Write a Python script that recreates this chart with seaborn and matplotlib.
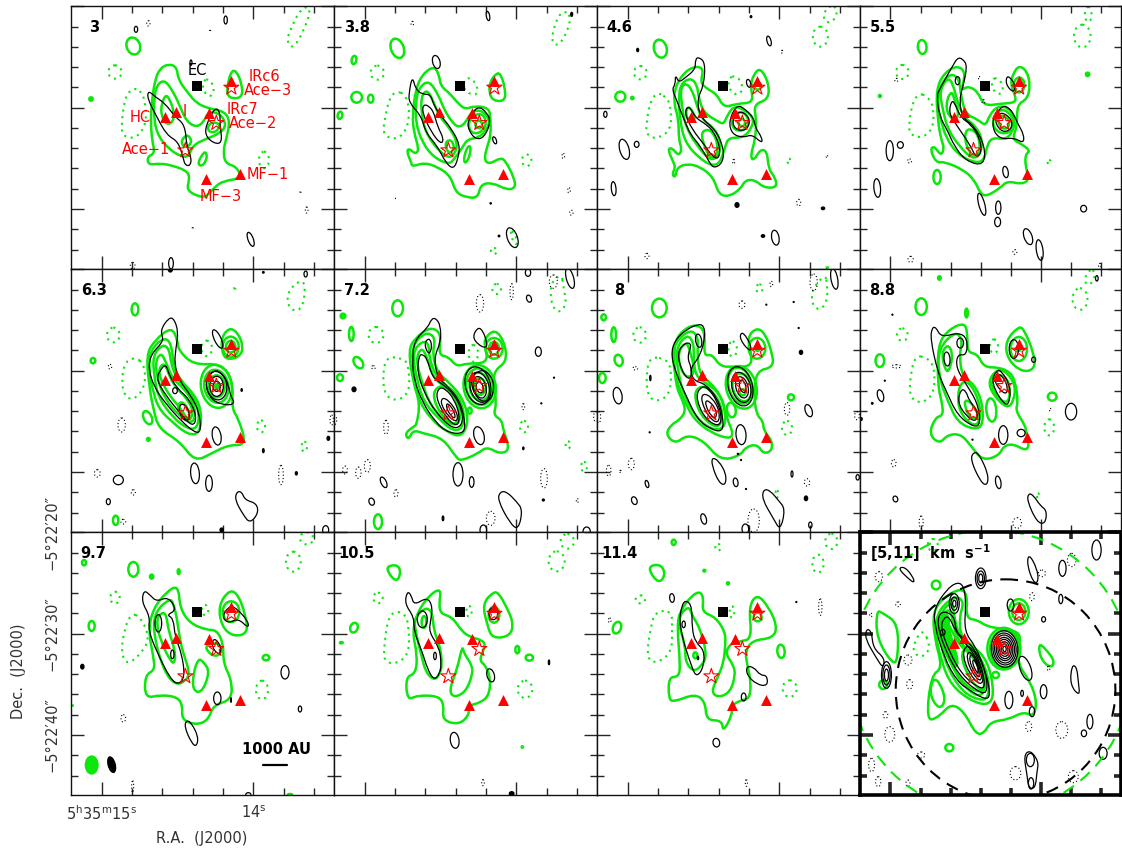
import numpy as np
import pandas as pd
import matplotlib
matplotlib.use('Agg')
import matplotlib.pyplot as plt
from matplotlib.patches import Ellipse, Circle, PathPatch
from matplotlib.path import Path
import seaborn as sns

# all map positions are in map units, 0-789 across a panel, y pointing down
LABELS = ["3", "3.8", "4.6", "5.5", "6.3", "7.2", "8", "8.8", "9.7", "10.5", "11.4", r"[5,11]  km  s$^{\mathbf{-1}}$"]
PREFIXES = ["V3", "V38", "V46", "V55", "V63", "V72", "V80", "V88", "V97", "V105", "V114", "VALL"]

TRI_X = [283, 315, 413, 481, 405, 506]
TRI_Y = [332, 318, 322, 224, 520, 505]
STAR_X = [343, 436, 481]
STAR_Y = [433, 351, 245]
EC_X = [378]
EC_Y = [240]

SOURCE_NAMES = ["HC", "I", "IRc6", "Ace\u22123", "IRc7", "Ace\u22122", "Ace\u22121", "MF\u22121", "MF\u22123"]
SOURCE_X = [207, 340, 579, 592, 515, 545, 225, 589, 448]
SOURCE_Y = [334, 317, 212, 253, 309, 352, 432, 506, 572]

RA_MAJOR = [92, 547]
RA_LABELS = [r"5$^{\rm h}$35$^{\rm m}$15$^{\rm s}$", r"14$^{\rm s}$"]
DEC_MAJOR = [1, 305, 609]
DEC_LABELS = ["\u22125\u00b022\u203220\u2033", "\u22125\u00b022\u203230\u2033", "\u22125\u00b022\u203240\u2033"]

# channel 3
V3_G = [
    [(267,187),(252,222),(243,282),(239,342),(243,402),(252,442),(229,452),(232,477),(267,472),(307,479),(352,497),(355,522),(347,552),(382,572),(407,572),(432,542),(457,525),(512,517),(497,482),(462,472),(457,432),(465,402),(477,347),(462,317),(412,307),(377,292),(352,262),(322,222),(317,182),(292,174)],
    [(282,220),(257,237),(249,282),(249,342),(262,392),(297,432),(332,452),(352,452),(367,417),(402,400),(447,382),(467,357),(447,322),(412,317),(399,347),(377,364),(347,347),(327,302),(312,267)],
    [(285,265),(272,292),(270,327),(287,357),(307,347),(309,317),(297,282)],
    [(345,387),(329,407),(342,427),(362,412),(357,392)],
    [(422,347),(407,367),(422,382),(442,372),(447,354)],
    [(399,437),(379,472),(392,482),(407,462),(407,442)],
    [(484,192),(472,222),(467,267),(487,279),(515,272),(512,232),(497,197)],
]
V3_K = [
    [(232,254),(229,277),(257,332),(287,387),(322,407),(337,457),(342,477),(357,480),(362,457),(347,422),(342,357),(312,332),(282,292),(252,272)],
    [(432,304),(407,352),(402,387),(427,412),(454,412),(447,357),(447,317)],
]
V3_GD = [
    [(185,247),(162,272),(150,362),(157,392),(197,397),(227,352),(222,282),(207,252)],
    [(692,2),(652,82),(649,112),(667,127),(697,77),(722,7)],
]
V3_EG = [(187,120,40,52,-20),(60,279,10,10,0)]
V3_EK = [(195,70,10,18,0),(464,42,10,24,0),(539,700,16,44,-20),(300,772,14,34,0),(360,170,6,16,0)]
V3_EGD = [(132,198,40,40,0),(579,462,30,50,0),(412,245,30,50,-15)]
V3_EKD = [(232,52,10,16,0),(185,779,14,20,0),(707,612,8,18,0),(365,667,4,4,0),(417,75,4,4,0),(688,560,4,4,0)]

# channel 3.8
V38_G = [
    [(300,180),(265,205),(245,250),(235,330),(240,380),(255,430),(245,445),(225,427),(218,437),(232,470),(235,482),(270,470),(310,482),(350,510),(365,560),(400,575),(432,575),(440,535),(475,530),(520,552),(545,545),(540,515),(515,465),(500,455),(465,475),(450,460),(460,420),(470,390),(470,340),(465,305),(420,300),(395,310),(375,295),(345,260),(320,240),(315,205)],
    [(285,222),(255,245),(245,290),(245,350),(265,410),(300,455),(345,475),(360,460),(385,425),(400,400),(435,395),(460,370),(468,340),(440,310),(410,320),(395,350),(375,365),(355,350),(330,310),(315,270)],
    [(280,250),(262,270),(262,320),(275,380),(310,430),(345,458),(365,440),(370,410),(350,370),(315,330),(300,290)],
    [(345,400),(332,415),(345,445),(360,430),(358,410)],
    [(435,320),(405,340),(405,375),(430,385),(455,365),(455,335)],
    [(435,340),(420,355),(435,370),(448,355)],
    [(490,200),(468,225),(465,260),(478,285),(515,285),(512,240),(500,205)],
]
V38_K = [
    [(235,210),(225,260),(225,290),(262,330),(275,380),(310,420),(335,470),(358,490),(372,460),(378,415),(350,365),(325,335),(300,300),(290,265),(265,265),(245,250)],
    [(268,295),(265,320),(290,375),(320,415),(330,400),(310,360),(300,320),(285,300)],
    [(430,298),(400,345),(405,375),(425,400),(450,395),(470,350),(460,320)],
]
V38_GD = [
    [(185,255),(165,280),(150,350),(148,385),(180,402),(215,380),(228,320),(215,265)],
    [(400,215),(385,235),(400,262),(430,268),(430,240),(415,220)],
    [(680,10),(650,95),(665,122),(690,100),(715,30)],
]
V38_EG = [(190,127,38,60,-20),(60,162,14,25,10),(68,274,32,32,0),(110,278,16,24,0),(18,328,14,22,10),(400,445,14,50,15)]
V38_EK = [(307,168,22,40,-15),(482,403,10,22,-20),(462,30,10,28,-10),(535,695,30,62,-20),(470,592,4,4,0),(495,690,5,5,0),(713,25,6,12,0)]
V38_EGD = [(130,200,40,42,0),(578,463,28,35,0),(480,735,18,18,0),(540,695,12,40,-20)]
V38_EKD = [(235,52,8,12,0),(688,450,8,15,0),(705,553,8,15,0),(712,620,10,15,0),(183,578,3,3,0)]

# channel 4.6
V46_G = [
    [(300,180),(265,195),(235,240),(230,290),(245,340),(245,400),(255,430),(245,450),(225,425),(212,430),(230,470),(235,485),(225,505),(235,515),(240,485),(270,473),(310,482),(350,515),(365,565),(395,572),(430,550),(445,522),(475,522),(500,545),(540,545),(535,515),(515,490),(510,435),(490,430),(470,465),(460,450),(475,400),(478,340),(470,295),(515,280),(515,230),(490,185),(470,205),(460,240),(470,290),(420,293),(380,305),(360,265),(330,248),(310,230),(320,190)],
    [(280,215),(250,235),(245,285),(250,350),(265,410),(305,455),(345,480),(370,470),(385,420),(395,395),(440,395),(465,365),(470,335),(440,310),(410,300),(390,330),(380,355),(360,345),(320,320),(305,275),(300,235)],
    [(265,230),(250,250),(255,300),(265,360),(300,420),(340,465),(365,450),(372,410),(355,370),(315,340),(300,300),(285,250)],
    [(325,370),(312,385),(325,430),(345,460),(360,445),(362,410),(345,375)],
    [(275,300),(265,320),(275,345),(295,340),(290,320)],
    [(430,315),(405,330),(405,365),(430,378),(455,360),(452,330)],
    [(435,335),(420,350),(435,365),(448,350)],
]
V46_K = [
    [(235,205),(235,235),(225,250),(240,285),(245,300),(265,350),(280,385),(310,420),(335,465),(350,488),(378,470),(380,425),(355,370),(310,335),(300,280),(320,240),(325,170),(305,153),(295,160),(295,190),(265,215),(245,230)],
    [(275,297),(262,320),(285,370),(325,420),(345,450),(365,460),(370,425),(350,375),(320,350),(295,335)],
    [(420,295),(395,345),(405,385),(440,395),(465,385),(495,412),(495,395),(475,365),(470,335),(445,310)],
    [(425,315),(405,345),(415,370),(445,375),(460,350),(450,325)],
]
V46_GD = [
    [(180,260),(160,285),(148,350),(148,385),(175,400),(222,375),(222,300),(205,270)],
]
V46_EG = [(190,128,38,55,-15),(70,272,30,30,-30),(106,276,7,7,0),(482,240,20,22,0)]
V46_EK = [(455,232,12,24,-15),(82,430,28,62,-15),(119,415,14,18,0),(50,548,14,42,-5),(516,105,12,30,-15),(535,695,22,45,-10),(420,597,12,14,0),(498,690,10,8,0),(678,607,10,8,0),(25,325,10,18,0),(122,132,6,10,0),(462,32,5,6,0)]
V46_EGD = [(130,200,38,40,0),(415,238,38,55,-20),(670,92,45,60,0),(700,25,35,50,25),(576,465,10,14,0),(690,787,20,6,0)]
V46_EKD = [(410,467,6,14,0),(605,590,12,20,0),(150,750,12,16,0),(555,137,6,8,0),(690,452,5,6,0)]

# channel 5.5
V55_G = [
    [(295,178),(255,200),(230,250),(235,340),(245,400),(255,425),(245,450),(225,420),(212,430),(230,470),(255,467),(310,490),(345,520),(365,565),(385,570),(425,545),(445,525),(490,535),(512,520),(500,480),(500,445),(515,435),(490,415),(460,400),(475,360),(475,295),(505,280),(515,240),(505,195),(480,178),(462,205),(455,235),(470,270),(470,290),(425,293),(375,300),(355,255),(325,240),(305,255),(320,200)],
    [(275,200),(240,240),(235,300),(245,345),(260,395),(295,445),(345,470),(375,465),(385,415),(400,395),(440,400),(460,380),(470,340),(450,305),(415,300),(390,330),(380,360),(355,340),(320,325),(305,270),(300,220)],
    [(265,215),(240,255),(250,310),(265,370),(300,420),(340,460),(365,445),(370,400),(350,360),(315,335),(295,290),(280,230)],
    [(278,255),(262,280),(262,320),(285,345),(300,325),(285,280)],
    [(325,365),(315,395),(330,440),(350,450),(365,430),(355,380)],
    [(425,310),(403,330),(402,365),(430,385),(460,375),(465,340),(445,315)],
    [(425,325),(415,345),(430,370),(450,365),(452,340)],
    [(480,210),(462,230),(472,262),(495,255),(498,225)],
]
V55_K = [
    [(295,155),(280,180),(240,250),(232,270),(240,330),(265,375),(285,420),(320,465),(375,480),(378,420),(345,360),(310,335),(300,285),(310,245),(325,180),(310,158)],
    [(278,280),(268,320),(290,355),(335,420),(350,455),(368,440),(362,395),(335,355),(305,335),(290,300)],
    [(430,298),(400,340),(405,380),(430,400),(465,395),(495,412),(495,385),(478,355),(465,325),(450,305)],
    [(425,315),(405,345),(430,380),(458,370),(460,340)],
    [(445,205),(440,235),(465,262),(470,235)],
]
V55_GD = [
    [(180,262),(160,285),(148,350),(150,385),(185,397),(222,370),(222,295),(200,270)],
]
V55_EG = [(188,123,26,42,-5),(233,513,22,42,0),(60,270,6,6,0),(688,205,10,10,0)]
V55_EK = [(295,224,14,24,0),(90,434,22,60,0),(122,417,18,20,0),(52,546,20,56,-5),(368,595,18,68,-15),(418,605,16,40,0),(416,648,18,28,0),(508,692,24,50,-20),(543,732,20,62,-8),(676,608,18,20,0),(440,498,16,34,-10)]
V55_EGD = [(128,198,38,42,0),(415,240,30,48,-20),(672,90,50,68,0),(690,25,20,45,0),(572,468,10,12,0)]
V55_EKD = [(150,465,12,12,0),(153,760,16,18,0),(468,738,12,14,0),(725,778,8,12,0),(373,287,8,12,0),(110,222,10,10,0),(360,215,4,8,0)]

# channel 6.3
V63_G = [
    [(322,243),(367,288),(452,283),(487,338),(482,418),(502,448),(527,528),(472,528),(422,553),(372,578),(327,518),(262,478),(247,418),(237,368),(225,258),(252,213),(302,173),(320,215)],
    [(477,175),(452,203),(452,248),(467,273),(507,263),(517,233),(502,193)],
    [(282,203),(237,243),(234,308),(244,358),(262,418),(302,458),(352,498),(387,493),(392,428),(372,378),(327,333),(307,288),(302,228)],
    [(275,225),(245,260),(250,325),(262,385),(305,445),(350,480),(380,478),(385,425),(360,370),(320,335),(300,285),(295,240)],
    [(270,250),(252,280),(262,340),(285,395),(325,440),(360,465),(375,440),(365,395),(335,355),(305,330),(285,280)],
    [(272,285),(262,310),(278,350),(300,385),(330,420),(355,460),(368,425),(345,385),(318,360),(296,325),(285,290)],
    [(330,395),(318,415),(340,450),(358,445),(350,415)],
]
V63_K = [
    [(430,300),(400,340),(420,395),(470,410),(492,402),(478,380),(472,345),(455,315)],
    [(294,145),(267,185),(280,215),(240,255),(232,300),(250,355),(285,405),(330,455),(370,490),(390,490),(385,430),(360,380),(325,335),(310,285),(315,235),(322,190),(310,150)],
    [(270,300),(255,330),(285,380),(325,430),(365,475),(378,445),(355,390),(320,360),(295,320),(285,285)],
    [(497,668),(492,693),(517,738),(537,763),(562,733),(557,703),(522,693),(512,668)],
]
V63_GD = [
    [(192,263),(157,283),(152,368),(182,398),(222,358),(222,288)],
    [(702,33),(672,43),(647,78),(654,118),(682,128),(700,98)],
]
V63_EG = [(436,352,92,130,-10),(436,352,72,100,-10),(437,352,48,66,0),(437,352,10,12,0),(479,233,48,60,0),(479,233,28,35,0),(192,121,20,36,0),(66,275,14,16,0),(230,446,24,42,-25),(232,511,8,8,0),(134,754,16,28,0)]
V63_EK = [(437,350,60,86,-10),(437,352,40,60,0),(437,352,22,30,0),(340,430,26,50,-20),(437,501,26,55,-10),(372,613,26,62,-5),(414,643,20,48,0),(142,633,30,28,0),(112,698,12,18,0),(704,15,10,18,0),(764,783,18,26,0),(452,783,10,12,0),(298,2,12,14,0),(577,10,5,5,0),(577,545,5,12,0),(772,508,8,12,0),(676,613,6,10,0),(512,363,4,8,0),(312,365,14,18,0),(440,210,20,60,-25)]
V63_EGD = [(127,198,38,44,0),(407,238,32,46,0),(489,61,8,6,0),(570,472,24,36,0),(700,533,16,30,0)]
V63_EKD = [(117,293,10,14,0),(152,468,22,42,0),(79,613,18,22,0),(187,670,12,16,0),(157,758,14,14,0),(630,618,14,58,0),(782,453,10,30,0)]

# channel 7.2
V72_G = [
    [(288,173),(243,208),(223,243),(238,343),(258,403),(248,468),(238,473),(213,493),(223,513),(238,483),(268,493),(328,508),(368,568),(383,575),(433,553),(458,533),(498,555),(528,543),(508,483),(503,453),(478,438),(488,403),(478,340),(483,303),(518,278),(513,223),(483,178),(448,213),(458,243),(458,283),(398,283),(368,293),(343,263),(313,258),(323,193)],
    [(275,188),(233,230),(238,310),(252,390),(290,450),(340,490),(385,505),(405,450),(385,385),(345,340),(310,310),(295,255),(305,205)],
    [(265,215),(235,250),(248,330),(270,400),(315,450),(355,485),(385,480),(392,430),(370,375),(330,345),(305,320),(285,265),(285,225)],
    [(262,235),(245,270),(265,345),(290,410),(335,460),(375,470),(380,420),(355,370),(320,345),(295,320),(278,260)],
    [(315,350),(295,375),(315,430),(360,472),(378,445),(370,395),(340,355)],
]
V72_K = [
    [(440,300),(405,330),(430,395),(470,398),(482,350),(468,315)],
    [(292,150),(282,175),(240,215),(235,280),(240,330),(265,400),(305,460),(340,490),(385,495),(395,470),(380,400),(345,355),(310,325),(300,265),(320,220),(320,170),(305,147)],
    [(255,260),(250,310),(270,370),(305,430),(355,480),(385,470),(385,425),(360,375),(325,345),(295,325),(280,270),(265,255)],
    [(315,355),(305,385),(335,445),(370,475),(378,440),(360,390),(335,360)],
    [(325,385),(320,405),(345,445),(370,460),(370,430),(345,395)],
    [(340,400),(336,415),(350,440),(365,450),(360,425)],
    [(285,205),(270,225),(285,260),(295,230)],
    [(433,173),(415,203),(433,228),(458,238),(458,218),(448,188)],
    [(498,668),(491,693),(528,763),(553,783),(566,723),(548,698),(518,668)],
]
V72_GD = [
    [(163,263),(148,293),(148,373),(183,398),(228,373),(223,283),(203,268)],
    [(683,13),(648,43),(653,113),(678,133),(698,103),(688,53)],
]
V72_EG = [(437,353,96,130,-10),(437,353,80,110,-10),(437,353,60,85,-10),(437,353,36,50,0),(480,238,52,62,0),(480,238,30,38,0),(407,425,12,18,0),(191,118,32,48,0),(52,195,14,42,0),(73,281,24,38,-35),(18,326,18,20,0),(132,758,24,44,0),(27,141,14,14,0)]
V72_EK = [(432,350,75,115,-15),(437,355,56,92,-15),(437,355,38,66,-15),(437,355,20,34,-15),(435,500,30,55,-15),(372,616,30,70,0),(413,639,14,32,0),(149,640,16,34,-25),(113,698,16,22,-20),(613,248,18,28,0),(60,361,12,14,0),(585,89,14,22,-20),(582,11,16,22,0),(708,28,22,62,-15),(327,748,5,14,0),(758,788,22,28,0),(448,783,20,30,0),(568,538,4,8,0),(622,403,3,3,0),(660,326,3,3,0),(628,693,6,6,0)]
V72_EGD = [(126,198,44,48,0),(418,253,28,50,0),(488,60,26,30,0),(570,473,24,34,0),(702,528,14,22,0),(750,593,18,28,0)]
V72_EKD = [(438,103,22,52,0),(533,68,10,48,0),(658,38,24,40,0),(118,295,12,10,0),(156,475,14,42,0),(33,603,14,24,0),(73,611,16,34,0),(100,591,18,38,0),(186,673,12,22,0),(630,628,20,58,0),(568,413,8,18,0),(470,748,26,42,0),(730,695,6,12,0),(0,453,16,30,0),(786,443,14,30,0)]

# channel 8
V80_G = [
    [(295,165),(255,185),(230,225),(235,350),(260,400),(265,430),(245,455),(225,465),(205,495),(235,525),(270,497),(320,515),(370,575),(430,560),(445,535),(480,525),(500,555),(525,545),(525,515),(500,485),(498,455),(480,440),(470,380),(478,305),(530,295),(525,250),(505,195),(480,175),(450,205),(465,260),(460,293),(410,293),(370,293),(345,255),(320,262),(325,185)],
    [(280,180),(235,220),(225,260),(240,340),(262,395),(290,450),(340,490),(395,510),(410,495),(390,450),(375,385),(340,340),(310,320),(300,260),(305,205)],
    [(270,195),(235,240),(245,320),(262,380),(300,450),(350,485),(385,475),(385,420),(365,370),(330,345),(295,320),(290,265),(290,220)],
    [(268,215),(240,255),(258,320),(285,325),(292,295),(280,250)],
    [(310,350),(290,375),(310,440),(360,480),(378,450),(370,400),(340,360)],
]
V80_K = [
    [(305,165),(270,180),(232,215),(222,260),(240,320),(265,375),(300,450),(340,480),(378,490),(378,440),(360,385),(325,345),(290,335),(278,300),(310,260),(325,200),(320,170)],
    [(265,220),(240,250),(255,310),(280,335),(285,300),(270,265),(285,225)],
    [(315,350),(295,380),(320,445),(365,475),(375,445),(360,395),(335,360)],
    [(318,372),(312,395),(335,445),(365,465),(368,425),(345,385)],
    [(328,390),(325,410),(345,445),(360,445),(355,415)],
    [(433,188),(428,210),(455,245),(465,240),(450,205)],
    [(345,565),(345,590),(365,640),(385,650),(388,615),(365,575)],
    [(500,660),(495,690),(530,750),(550,785),(565,720),(545,695),(520,665)],
]
V80_GD = [
    [(165,265),(150,290),(148,380),(185,400),(222,370),(222,285),(195,267)],
    [(685,15),(645,60),(645,110),(672,125),(692,90),(690,45)],
]
V80_EG = [(433,355,90,130,-15),(430,350,70,110,-15),(435,355,55,85,-15),(437,370,18,18,0),(480,238,50,62,0),(481,240,10,12,0),(403,423,26,44,-10),(187,117,44,56,0),(20,145,14,18,0),(50,197,14,44,0),(65,274,24,34,-15),(16,327,20,30,0),(582,385,18,18,0)]
V80_EK = [(430,352,72,120,-15),(433,355,55,92,-15),(435,355,36,65,-15),(437,352,18,38,-15),(305,215,18,40,-10),(432,497,30,60,-5),(62,380,26,50,-10),(635,425,20,38,-20),(612,250,10,12,0),(712,30,20,62,-10),(416,640,14,26,-10),(150,645,10,22,-15),(112,695,16,24,-20),(320,750,16,32,-15),(627,688,10,14,0),(640,768,10,18,0),(782,625,10,16,0),(160,327,4,16,0),(585,615,6,18,0),(445,780,20,30,0),(508,107,3,3,0),(590,99,3,3,0),(605,177,3,3,0),(158,490,3,3,0),(447,660,3,3,0),(423,555,4,4,0),(432,573,3,3,0)]
V80_EGD = [(128,198,38,46,0),(407,240,25,45,0),(487,58,20,24,0),(570,477,30,42,0),(540,675,10,20,0)]
V80_EKD = [(435,107,18,22,0),(523,45,8,16,0),(650,40,22,50,0),(115,298,14,10,0),(103,585,18,34,0),(35,605,14,32,0),(70,607,8,6,0),(630,640,16,22,0),(5,445,12,34,0),(780,440,14,24,0),(570,420,16,38,0),(470,755,34,70,0)]

# channel 8.8
V88_G = [
    [(318,160),(270,180),(235,225),(235,350),(250,410),(250,440),(228,445),(208,495),(240,525),(265,497),(305,495),(335,530),(370,575),(420,560),(435,530),(465,525),(500,545),(512,530),(502,490),(500,470),(470,425),(478,400),(470,340),(455,310),(420,295),(375,295),(355,255),(325,250),(325,200)],
    [(480,172),(440,215),(445,270),(490,310),(530,300),(525,250),(495,180)],
    [(290,185),(235,240),(240,330),(265,395),(295,460),(345,482),(372,470),(370,400),(345,345),(310,325),(300,260),(310,215)],
    [(265,225),(245,255),(262,315),(275,290),(280,250)],
    [(310,335),(295,370),(300,430),(345,475),(365,450),(360,395),(335,345)],
    [(320,390),(315,410),(335,450),(360,445),(345,410)],
    [(415,300),(388,335),(400,375),(445,420),(465,395),(470,350),(445,310)],
    [(410,315),(395,345),(415,385),(445,405),(455,370),(445,325)],
]
V88_K = [
    [(415,300),(395,340),(440,415),(455,390),(452,345),(430,310)],
    [(415,315),(405,340),(440,380),(448,355),(430,320)],
    [(218,175),(213,210),(235,310),(260,365),(295,440),(345,475),(365,465),(355,400),(320,345),(290,295),(295,255),(322,260),(325,210),(300,190),(245,205),(230,175)],
    [(305,360),(295,400),(320,440),(350,460),(358,430),(330,395),(320,365)],
    [(345,548),(333,570),(365,640),(385,650),(388,615),(360,555)],
    [(510,672),(505,695),(535,760),(560,765),(565,725),(545,710),(525,680)],
]
V88_GD = [
    [(170,260),(155,300),(148,385),(185,405),(225,375),(225,290),(200,265)],
]
V88_EG = [(480,240,50,72,0),(480,240,10,12,0),(397,423,30,70,-5),(60,275,26,38,0),(185,113,34,50,0),(322,132,8,26,0),(581,383,26,24,0),(240,27,8,10,0)]
V88_EK = [(263,270,18,42,-5),(303,222,20,30,0),(465,240,28,56,0),(525,272,12,16,0),(62,380,18,36,-15),(638,428,34,50,0),(433,498,28,56,0),(487,492,24,22,0),(418,640,16,38,-10),(107,690,14,18,-20),(716,28,8,16,0),(98,137,3,3,0),(75,335,3,3,0),(37,403,5,5,0),(5,450,3,8,0),(340,512,3,3,0)]
V88_EGD = [(128,197,32,38,0),(405,232,24,42,0),(665,90,45,65,0),(695,25,25,45,20),(572,475,30,48,0),(538,680,6,16,0)]
V88_EKD = [(110,292,28,10,0),(102,583,14,22,0),(185,760,12,38,0),(475,762,26,32,0),(575,422,4,8,0)]

# channel 9.7
V97_G = [
    [(322,159),(287,179),(247,229),(232,294),(247,374),(252,414),(222,429),(222,499),(267,489),(317,494),(335,519),(332,564),(377,579),(412,564),(427,519),(482,504),(482,444),(457,394),(457,334),(437,294),(407,294),(357,274),(327,229)],
    [(297,199),(252,239),(247,304),(277,414),(312,459),(342,449),(357,424),(337,364),(327,324),(317,254),(307,214)],
    [(277,239),(255,259),(267,324),(302,394),(312,389),(312,354),(292,294),(287,254)],
    [(382,379),(367,424),(365,474),(392,484),(417,419),(397,389)],
    [(477,172),(442,219),(452,284),(487,314),(532,304),(522,244),(502,189)],
    [(415,334),(402,349),(427,374),(452,366),(447,334)],
]
V97_K = [
    [(219,174),(212,209),(237,254),(232,294),(257,359),(297,439),(322,459),(342,434),(332,364),(312,314),(307,259),(287,249),(317,234),(292,194),(257,209),(237,189)],
    [(347,564),(340,584),(362,634),(377,644),(382,614),(362,574)],
    [(477,219),(452,254),(472,274),(502,259),(532,289),(532,269),(502,234)],
    [(427,319),(422,344),(442,369),(452,354),(442,329)],
]
V97_GD = [
    [(182,244),(162,284),(149,364),(172,402),(227,344),(232,304),(207,254)],
]
V97_EG = [(480,239,50,62,0),(187,112,30,44,0),(242,134,10,12,0),(323,119,6,14,0),(62,282,18,30,0),(585,377,20,16,0),(39,92,12,16,0),(657,789,14,6,0)]
V97_EK = [(262,274,20,52,0),(304,367,10,26,0),(642,421,24,40,0),(439,499,22,38,0),(480,504,2,14,0),(687,531,10,18,0),(34,404,10,14,0),(532,789,16,14,0)]
V97_EGD = [(132,197,28,36,0),(402,234,20,30,0),(667,89,44,60,0),(707,19,40,36,0),(573,474,36,56,0),(4,524,4,12,0)]
V97_EKD = [(157,559,14,22,0),(185,764,6,36,0)]

# channel 10.5
V105_G = [
    [(322,170),(290,185),(250,240),(235,300),(250,370),(245,425),(215,435),(220,505),(250,490),(315,492),(330,520),(325,565),(375,578),(405,550),(405,520),(440,512),(465,490),(470,440),(455,400),(435,385),(455,340),(445,325),(410,315),(385,300),(355,255),(320,245),(315,215)],
    [(385,340),(370,410),(345,475),(360,497),(395,480),(415,430),(415,400),(390,365)],
    [(275,225),(240,260),(245,300),(262,370),(275,420),(300,445),(315,430),(325,400),(318,340),(300,300),(295,240)],
    [(480,178),(445,215),(460,280),(475,320),(530,312),(538,270),(515,220),(495,185)],
    [(165,100),(158,115),(185,150),(200,130),(195,100)],
]
V105_K = [
    [(220,177),(212,215),(240,255),(240,300),(265,360),(280,410),(300,445),(318,425),(322,390),(315,345),(285,300),(290,265),(296,225),(280,195),(240,220),(232,190)],
]
V105_GD = [
    [(180,237),(160,265),(150,350),(150,385),(180,398),(225,370),(225,290),(215,245)],
]
V105_EG = [(270,270,14,35,0),(480,248,32,48,0),(60,287,22,30,20),(550,353,12,22,0),(586,377,22,18,0),(22,332,8,4,0),(565,645,4,4,0)]
V105_EK = [(265,262,30,50,0),(303,372,8,22,0),(362,625,26,48,-8),(470,430,22,40,-15),(533,785,14,12,0),(478,245,26,36,0),(645,391,4,14,0)]
V105_EGD = [(132,198,28,32,0),(405,238,16,32,0),(668,88,48,60,0),(700,28,40,44,0),(573,472,44,52,0)]
V105_EKD = [(447,752,8,18,0)]

# channel 11.4
V114_G = [
    [(310,178),(285,190),(250,235),(240,280),(250,400),(245,435),(215,435),(215,500),(230,510),(295,485),(325,510),(328,565),(375,565),(378,600),(405,550),(405,520),(430,505),(458,500),(462,450),(450,395),(445,360),(465,325),(530,318),(540,280),(515,225),(480,185),(455,225),(465,320),(430,328),(400,335),(385,365),(410,400),(415,430),(400,480),(365,497),(342,480),(365,430),(380,390),(385,340),(385,300),(355,255),(315,240),(320,200)],
    [(275,220),(240,260),(265,340),(265,390),(290,420),(315,400),(330,370),(310,290),(285,250)],
    [(165,98),(155,115),(185,155),(205,130),(195,100)],
]
V114_K = [
    [(270,205),(255,215),(245,280),(285,410),(300,435),(320,405),(322,355),(295,330),(285,290),(285,225)],
    [(448,403),(450,430),(480,458),(512,462),(510,430),(490,430),(470,405)],
]
V114_GD = [
    [(175,237),(160,290),(148,380),(180,395),(225,360),(225,290),(225,237)],
]
V114_EG = [(60,287,24,36,20),(552,358,22,40,-5),(230,31,12,16,0),(295,370,12,18,0),(482,255,24,26,0),(322,116,6,5,0),(393,154,6,6,0)]
V114_EK = [(225,198,14,26,-5),(260,277,10,20,0),(303,378,4,10,0),(358,632,20,26,-10),(440,495,14,24,0),(598,210,3,3,0)]
V114_EGD = [(130,202,28,24,0),(363,46,16,20,0),(405,240,14,34,0),(663,95,34,54,0),(703,28,36,46,0),(578,470,42,50,0)]
V114_EKD = [(670,225,10,50,0),(38,265,8,14,0),(448,753,6,20,0)]

# integrated [5,11] panel
VALL_FILL = [(250,235),(228,262),(240,320),(262,375),(285,410),(300,395),(285,340),(270,290),(270,250)]
VALL_G = [
    [(305,169),(255,194),(220,239),(225,319),(250,409),(215,429),(200,569),(240,554),(275,514),(315,539),(350,607),(375,604),(395,569),(450,562),(495,539),(525,554),(535,509),(515,449),(475,394),(485,329),(480,299),(425,289),(385,284),(355,264),(320,259),(325,189)],
    [(290,190),(240,230),(225,290),(245,385),(275,460),(340,510),(395,520),(405,470),(385,385),(340,340),(305,315),(300,255),(315,210)],
    [(280,205),(240,245),(245,340),(265,410),(310,480),(360,505),(388,500),(390,440),(365,375),(325,340),(300,310),(285,260)],
    [(270,225),(240,265),(258,350),(285,420),(330,480),(370,495),(380,450),(355,380),(315,345),(290,310),(280,265)],
    [(250,250),(235,255),(240,310),(270,390),(320,465),(375,485),(375,435),(340,370),(300,340),(275,290)],
    [(318,345),(305,372),(325,430),(360,475),(380,470),(378,425),(355,375)],
    [(50,234),(50,319),(100,399),(115,379),(115,274),(70,244)],
    [(220,439),(210,489),(240,534),(260,504),(240,449)],
    [(540,334),(545,379),(575,409),(590,389),(560,349)],
]
VALL_K = [
    [(295,149),(260,174),(225,229),(225,279),(255,379),(295,449),(330,474),(380,504),(395,489),(380,419),(350,344),(315,299),(320,219),(315,164)],
    [(245,235),(232,275),(260,360),(300,430),(350,475),(385,488),(382,425),(350,355),(315,320),(290,300),(285,250)],
    [(255,255),(243,285),(270,360),(310,430),(355,465),(378,470),(372,420),(345,365),(310,325),(285,290),(270,255)],
    [(320,340),(310,370),(330,425),(365,462),(375,435),(360,385),(340,350)],
    [(328,355),(322,380),(340,425),(365,450),(368,425),(350,380)],
    [(335,365),(330,385),(345,420),(362,440),(360,415),(348,380)],
    [(342,380),(340,395),(352,420),(358,425),(355,400)],
    [(115,109),(145,139),(165,154),(160,134),(135,104)],
    [(20,289),(15,319),(50,379),(70,409),(75,379),(40,349),(35,299)],
    [(510,64),(505,99),(525,154),(540,149),(535,109)],
    [(640,399),(635,459),(665,494),(660,449),(655,404)],
    [(495,669),(505,729),(510,769),(530,769),(535,719),(540,689),(515,654)],
]
VALL_GD = [
    [(190,289),(165,329),(160,359),(185,379),(215,349)],
]
VALL_EG = [(435,350,100,125,0),(437,351,88,112,0),(480,239,60,75,0),(480,239,40,50,0),(230,159,26,26,0),(270,647,24,22,0),(410,429,20,18,0),(70,458,24,26,0)]
VALL_EK = [(437,351,80,110,-5),(437,351,70,96,-5),(437,351,60,84,-5),(437,351,50,70,-5),(437,351,40,58,-5),(437,351,30,44,-5),(437,351,20,30,-5),(437,351,10,16,-5),(285,215,30,60,0),(285,215,20,40,0),(285,215,10,20,0),(250,301,14,18,0),(365,139,32,62,0),(365,139,22,44,0),(365,139,12,26,0),(80,429,30,80,0),(80,429,22,60,0),(80,429,12,36,0),(612,109,22,48,0),(715,54,28,60,0),(607,201,12,28,0),(555,262,12,16,0),(500,409,32,76,-20),(555,479,20,42,0),(695,569,18,44,0),(677,604,16,20,0),(450,504,24,52,0),(520,539,16,30,0),(490,484,8,18,0),(735,664,24,36,0),(517,754,16,34,0),(515,684,24,40,0),(455,219,20,36,0)]
VALL_EGD = [(220,39,30,36,0)]
VALL_EKD = [(57,134,22,30,0),(115,217,14,14,0),(33,249,8,10,0),(145,384,24,30,0),(150,457,18,28,0),(77,549,14,20,0),(90,607,30,46,0),(35,699,18,40,0),(55,749,16,30,0),(145,754,12,20,0),(185,669,22,18,0),(470,724,32,40,0),(645,734,30,36,0),(610,594,36,50,0),(510,584,18,30,0),(640,84,26,40,0),(550,124,22,20,0),(520,194,14,24,0),(570,409,8,14,0),(475,2,16,6,0)]

# primary beam circles of the integrated panel: x, y, radius
BEAM_BLACK = (440, 474, 332)
BEAM_GREEN = (395, 419, 425)
# synthesized beams and scale bar of the 9.7 panel
SYNTH_GREEN = (62, 699, 42, 58, 0)
SYNTH_BLACK = (122, 698, 25, 52, -15)
BAR_X = [577, 649]
BAR_Y = [698, 698]

GREEN = '#0BE60B'
PANEL_PX = 263
MAP_SIZE = 789


def contour_path(shape):
    # closed quadratic curve with the read points as control points, so contours stay round
    pts = np.asarray(shape, dtype=float)
    mids = (pts + np.roll(pts, -1, axis=0)) / 2
    verts = [mids[-1]]
    codes = [Path.MOVETO]
    for p, m in zip(pts, mids):
        verts += [p, m]
        codes += [Path.CURVE3, Path.CURVE3]
    return Path(verts, codes)


def draw_lines(ax, shapes, color, lw, ls='-'):
    for shape in shapes:
        ax.add_patch(PathPatch(contour_path(shape), fc='none', ec=color, lw=lw, ls=ls))


def draw_rings(ax, rings, color, lw, ls='-'):
    for x, y, w, h, ang in rings:
        # the tiniest contours read as solid dots
        fill = color if max(w, h) <= 14 and ls == '-' else 'none'
        ax.add_patch(Ellipse((x, y), w, h, angle=ang, fc=fill, ec=color, lw=lw, ls=ls))


sns.set_theme(style="ticks", rc={'axes.linewidth': 1.0, 'axes.edgecolor': '#111111'})
plt.rcParams['font.family'] = ['DejaVu Sans']
plt.rcParams['mathtext.default'] = 'regular'

W, H = 1122, 850
fig = plt.figure(figsize=(W / 100, H / 100), dpi=100)
DOT = (0, (1, 2.2))
DOT_K = (0, (1, 2))

for n, prefix in enumerate(PREFIXES):
    row, col = n // 4, n % 4
    left = 71 + col * PANEL_PX
    top = 6 + row * PANEL_PX
    ax = fig.add_axes([left / W, 1 - (top + PANEL_PX) / H, min(PANEL_PX, W - left - 1) / W, PANEL_PX / H])
    ax.set_facecolor('white')

    data = globals()
    if prefix == 'VALL':
        ax.add_patch(PathPatch(contour_path(VALL_FILL), fc=GREEN, ec=GREEN, lw=1.0))
    draw_lines(ax, data.get(prefix + '_GD', []), GREEN, 1.5, DOT)
    draw_lines(ax, data.get(prefix + '_G', []), GREEN, 1.8)
    draw_rings(ax, data.get(prefix + '_EGD', []), GREEN, 1.5, DOT)
    draw_rings(ax, data.get(prefix + '_EG', []), GREEN, 1.8)
    draw_lines(ax, data.get(prefix + '_K', []), 'black', 0.9)
    draw_rings(ax, data.get(prefix + '_EK', []), 'black', 0.9)
    draw_rings(ax, data.get(prefix + '_EKD', []), 'black', 0.8, DOT_K)

    sns.scatterplot(x=EC_X, y=EC_Y, marker='s', s=54, color='black', linewidth=0, ax=ax, zorder=5)
    sns.scatterplot(x=TRI_X, y=TRI_Y, marker='^', s=62, color='red', linewidth=0, ax=ax, zorder=6)
    sns.scatterplot(x=STAR_X, y=STAR_Y, marker='*', s=130, facecolor='none', edgecolor='red',
                    linewidth=0.8, ax=ax, zorder=7)

    ax.set_xlim(0, MAP_SIZE)
    ax.set_ylim(MAP_SIZE, 0)
    ax.set_xlabel('')
    ax.set_ylabel('')
    ax.set_xticks(RA_MAJOR)
    ax.set_xticks(np.arange(92, MAP_SIZE, 91), minor=True)
    ax.set_yticks(DEC_MAJOR)
    ax.set_yticks(np.arange(1, MAP_SIZE, 60.8), minor=True)
    width = 2.6 if prefix == 'VALL' else 1.0
    ax.tick_params(which='major', direction='in', length=9.5, width=width, top=True, right=True,
                   labelbottom=False, labelleft=False)
    ax.tick_params(which='minor', direction='in', length=5, width=width, top=True, right=True)
    for sp in ax.spines.values():
        sp.set_linewidth(width if prefix == 'VALL' else 1.0)
        sp.set_color('black' if prefix == 'VALL' else '#111111')
        sp.set_zorder(10 if prefix == 'VALL' else 2.5)

    if prefix == 'VALL':
        ax.add_patch(Circle(BEAM_BLACK[:2], BEAM_BLACK[2], fc='none', ec='black', lw=1.5, ls=(0, (6, 4))))
        ax.add_patch(Circle(BEAM_GREEN[:2], BEAM_GREEN[2], fc='none', ec=GREEN, lw=1.5, ls=(0, (6, 4))))
        ax.text(30, 64, LABELS[n], fontsize=10.5, fontweight='bold', color='black', ha='left', va='center', zorder=9)
    else:
        ax.text(68, 64, LABELS[n], fontsize=10.5, fontweight='bold', color='black', ha='center', va='center', zorder=9)

    if prefix == 'V3':
        ax.text(380, 194, 'EC', fontsize=10.5, color='black', ha='center', va='center', zorder=9)
        for name, x, y in zip(SOURCE_NAMES, SOURCE_X, SOURCE_Y):
            ax.text(x, y, name, fontsize=10.5, color='red', ha='center', va='center', zorder=9)

    if prefix == 'V97':
        ax.add_patch(Ellipse(SYNTH_GREEN[:2], SYNTH_GREEN[2], SYNTH_GREEN[3], angle=SYNTH_GREEN[4], fc=GREEN, ec='none'))
        ax.add_patch(Ellipse(SYNTH_BLACK[:2], SYNTH_BLACK[2], SYNTH_BLACK[3], angle=SYNTH_BLACK[4], fc='black', ec='none'))
        sns.lineplot(x=BAR_X, y=BAR_Y, color='black', linewidth=1.6, ax=ax, legend=False)
        ax.text(617, 652, '1000 AU', fontsize=10.5, fontweight='bold', color='black', ha='center', va='center')
        ax.set_xlim(0, MAP_SIZE)
        ax.set_ylim(MAP_SIZE, 0)
        ax.set_xlabel('')
        ax.set_ylabel('')
        ax.set_xticklabels(RA_LABELS, fontsize=10.5, color='#333333')
        ax.set_yticklabels(DEC_LABELS, fontsize=10.5, color='#333333', rotation=90, va='center')
        ax.tick_params(which='major', labelbottom=True, labelleft=True)
        ax.tick_params(axis='x', which='major', pad=7)
        ax.tick_params(axis='y', which='major', pad=8)

fig.text(202 / W, 1 - 838 / H, 'R.A.  (J2000)', fontsize=10.5, color='#333333', ha='center', va='center')
fig.text(19 / W, 1 - 671 / H, 'Dec.  (J2000)', fontsize=10.5, color='#333333', ha='center', va='center', rotation=90)

fig.savefig('out.png', dpi=100, facecolor='white')
